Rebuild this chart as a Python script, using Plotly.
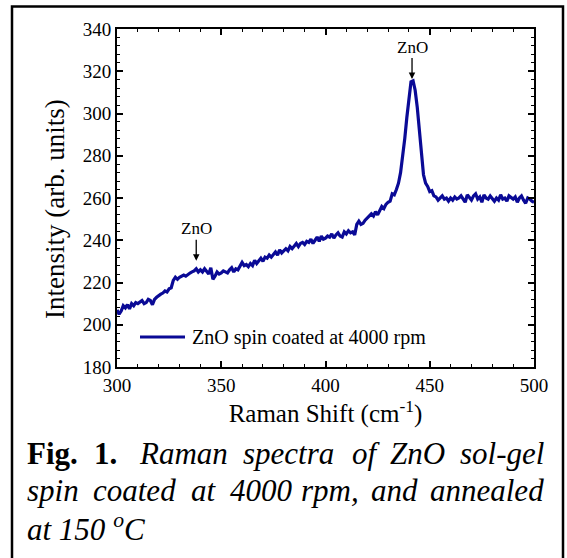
import plotly.graph_objects as go

# Raman shift (cm^-1), 1 cm^-1 steps, and intensity (arb. units)
shift = list(range(300, 501))
intensity = [
    207, 205, 206.5, 209, 208, 209.5, 207.5, 210, 209, 210.5, 210,
    211, 211.5, 210, 210.5, 212, 211.5, 209.5, 212, 213, 214,
    214.5, 215, 216, 215.5, 217, 217.5, 221, 222.5, 221.5, 222.5,
    223, 223.5, 223, 224, 224.5, 225, 225.5, 226.5, 225, 226,
    225, 226.5, 225.5, 224, 227, 221.5, 223, 225, 224, 224.5,
    225.5, 225, 224.5, 226, 227, 225, 226.5, 226, 227.5, 229.5,
    228, 228.5, 227.5, 229, 228, 230.5, 229, 230.5, 231.5, 230,
    232, 231.5, 233, 232, 233.5, 234.5, 233, 235.5, 234, 235,
    236, 235, 237, 236, 237.5, 238.5, 237, 238.5, 239, 238,
    239.5, 239, 240.5, 238.5, 240, 241.5, 239.5, 242, 240.5, 241,
    242, 241.5, 243, 241, 242.5, 243.5, 242, 241.5, 244, 243,
    244.5, 243.5, 244, 242.5, 247.5, 249, 247.5, 248, 249.5, 250.5,
    251, 252.5, 251.5, 253.5, 252, 254.5, 256, 255, 257, 258,
    258.5, 262, 261.5, 264, 267, 272, 279, 288, 298, 308,
    315, 315.5, 311, 303, 291, 279, 271, 267, 265.5, 263,
    263.5, 261, 260.5, 259, 260, 261, 259.5, 260, 258.5, 260,
    259, 260.5, 259.5, 260, 261, 259.5, 258, 261.5, 260, 259,
    261, 262, 259.5, 260.5, 258, 261.5, 260, 259.5, 261, 260,
    258.5, 260, 259, 261.5, 259.5, 260, 258.5, 261, 260, 259.5,
    260.5, 258, 260, 261, 259, 257.5, 260, 259.5, 258.5, 258,
]

series_name = "ZnO spin coated at 4000 rpm"
peak_labels = ["ZnO", "ZnO"]
peak_x = [338, 441.5]
peak_y = [229.8, 315.8]

x_title = "Raman Shift (cm<sup>-1</sup>)"
y_title = "Intensity (arb. units)"

SERIF = "Liberation Serif, Times New Roman, serif"
L, R, T, B = 117, 33, 29, 191
W, H = 567, 558
PW, PH = W - L - R, H - T - B
LINE_COLOR = "#0a0a96"

fig = go.Figure()
fig.add_trace(go.Scatter(x=shift, y=intensity, mode="lines", name=series_name,
                         showlegend=False, line=dict(color=LINE_COLOR, width=3.2)))

axis_common = dict(showline=True, linewidth=2, linecolor="black", mirror="allticks",
                   ticks="inside", ticklen=6, tickwidth=1.5, tickcolor="black",
                   showgrid=False, zeroline=False,
                   tickfont=dict(family=SERIF, size=19, color="black"))
fig.update_xaxes(range=[300, 500], dtick=50, tick0=300,
                 minor=dict(ticks="inside", dtick=10, ticklen=3, tickwidth=1.2, tickcolor="black"),
                 title=dict(text=x_title, standoff=6,
                            font=dict(family=SERIF, size=25, color="black")),
                 **axis_common)
fig.update_yaxes(range=[180, 340], dtick=20, tick0=180,
                 minor=dict(ticks="inside", dtick=4, ticklen=3, tickwidth=1.2, tickcolor="black"),
                 **axis_common)


def px2paper(px, py):
    return (px - L) / PW, ((H - B) - py) / PH


annotations = []
for lab, px, py in zip(peak_labels, peak_x, peak_y):
    annotations.append(dict(x=px, y=py, xref="x", yref="y", text=lab, showarrow=True,
                            arrowhead=2, arrowsize=1, arrowwidth=1.3, arrowcolor="black",
                            ax=0, ay=-33, standoff=1,
                            font=dict(family=SERIF, size=17, color="black")))


def pa(text, px, py, size=31, anchor="left", angle=0, yanchor="middle"):
    return dict(xref="paper", yref="paper", x=0, y=0, xshift=px - L, yshift=(H - B) - py,
                text=text, showarrow=False, xanchor=anchor, yanchor=yanchor, textangle=angle,
                font=dict(family=SERIF, size=size, color="black"))


# y-axis title
annotations.append(pa(y_title, 55, 209, size=27, anchor="center", angle=-90))

# legend (drawn by hand to match the sample line length)
lx0, ly0 = px2paper(140, 337)
lx1, _ = px2paper(185, 337)
annotations.append(pa(series_name, 190, 337, size=20))

line1 = [("<b>Fig.</b>", 25, "left"), ("<b>1.</b>", 92, "left"), ("<i>Raman</i>", 137, "left"),
         ("<i>spectra</i>", 241, "left"), ("<i>of</i>", 350, "left"), ("<i>ZnO</i>", 388, "left"),
         ("<i>sol-gel</i>", 546, "right")]
line2 = [("<i>spin</i>", 25, "left"), ("<i>coated</i>", 91, "left"), ("<i>at</i>", 189, "left"),
         ("<i>4000</i>", 228, "left"), ("<i>rpm,</i>", 299, "left"), ("<i>and</i>", 369, "left"),
         ("<i>annealed</i>", 546, "right")]
line3 = [("<i>at 150 <sup>o</sup>C</i>", 25, "left")]
for words, yy in ((line1, 453.5), (line2, 490.5), (line3, 527.5)):
    for t, xx, anc in words:
        annotations.append(pa(t, xx, yy, anchor=anc))

shapes = [
    dict(type="rect", xref="paper", yref="paper",
         x0=(12 - L) / PW, x1=(563 - L) / PW,
         y0=-(H + 10 - (H - B)) / PH, y1=((H - B) - 6.5) / PH,
         line=dict(color="black", width=2.5), layer="below"),
    dict(type="line", xref="paper", yref="paper", x0=lx0, x1=lx1, y0=ly0, y1=ly0,
         line=dict(color=LINE_COLOR, width=3.2)),
]

fig.update_layout(width=W, height=H, margin=dict(l=L, r=R, t=T, b=B),
                  paper_bgcolor="white", plot_bgcolor="white",
                  annotations=annotations, shapes=shapes)

fig.write_html("out.html")
